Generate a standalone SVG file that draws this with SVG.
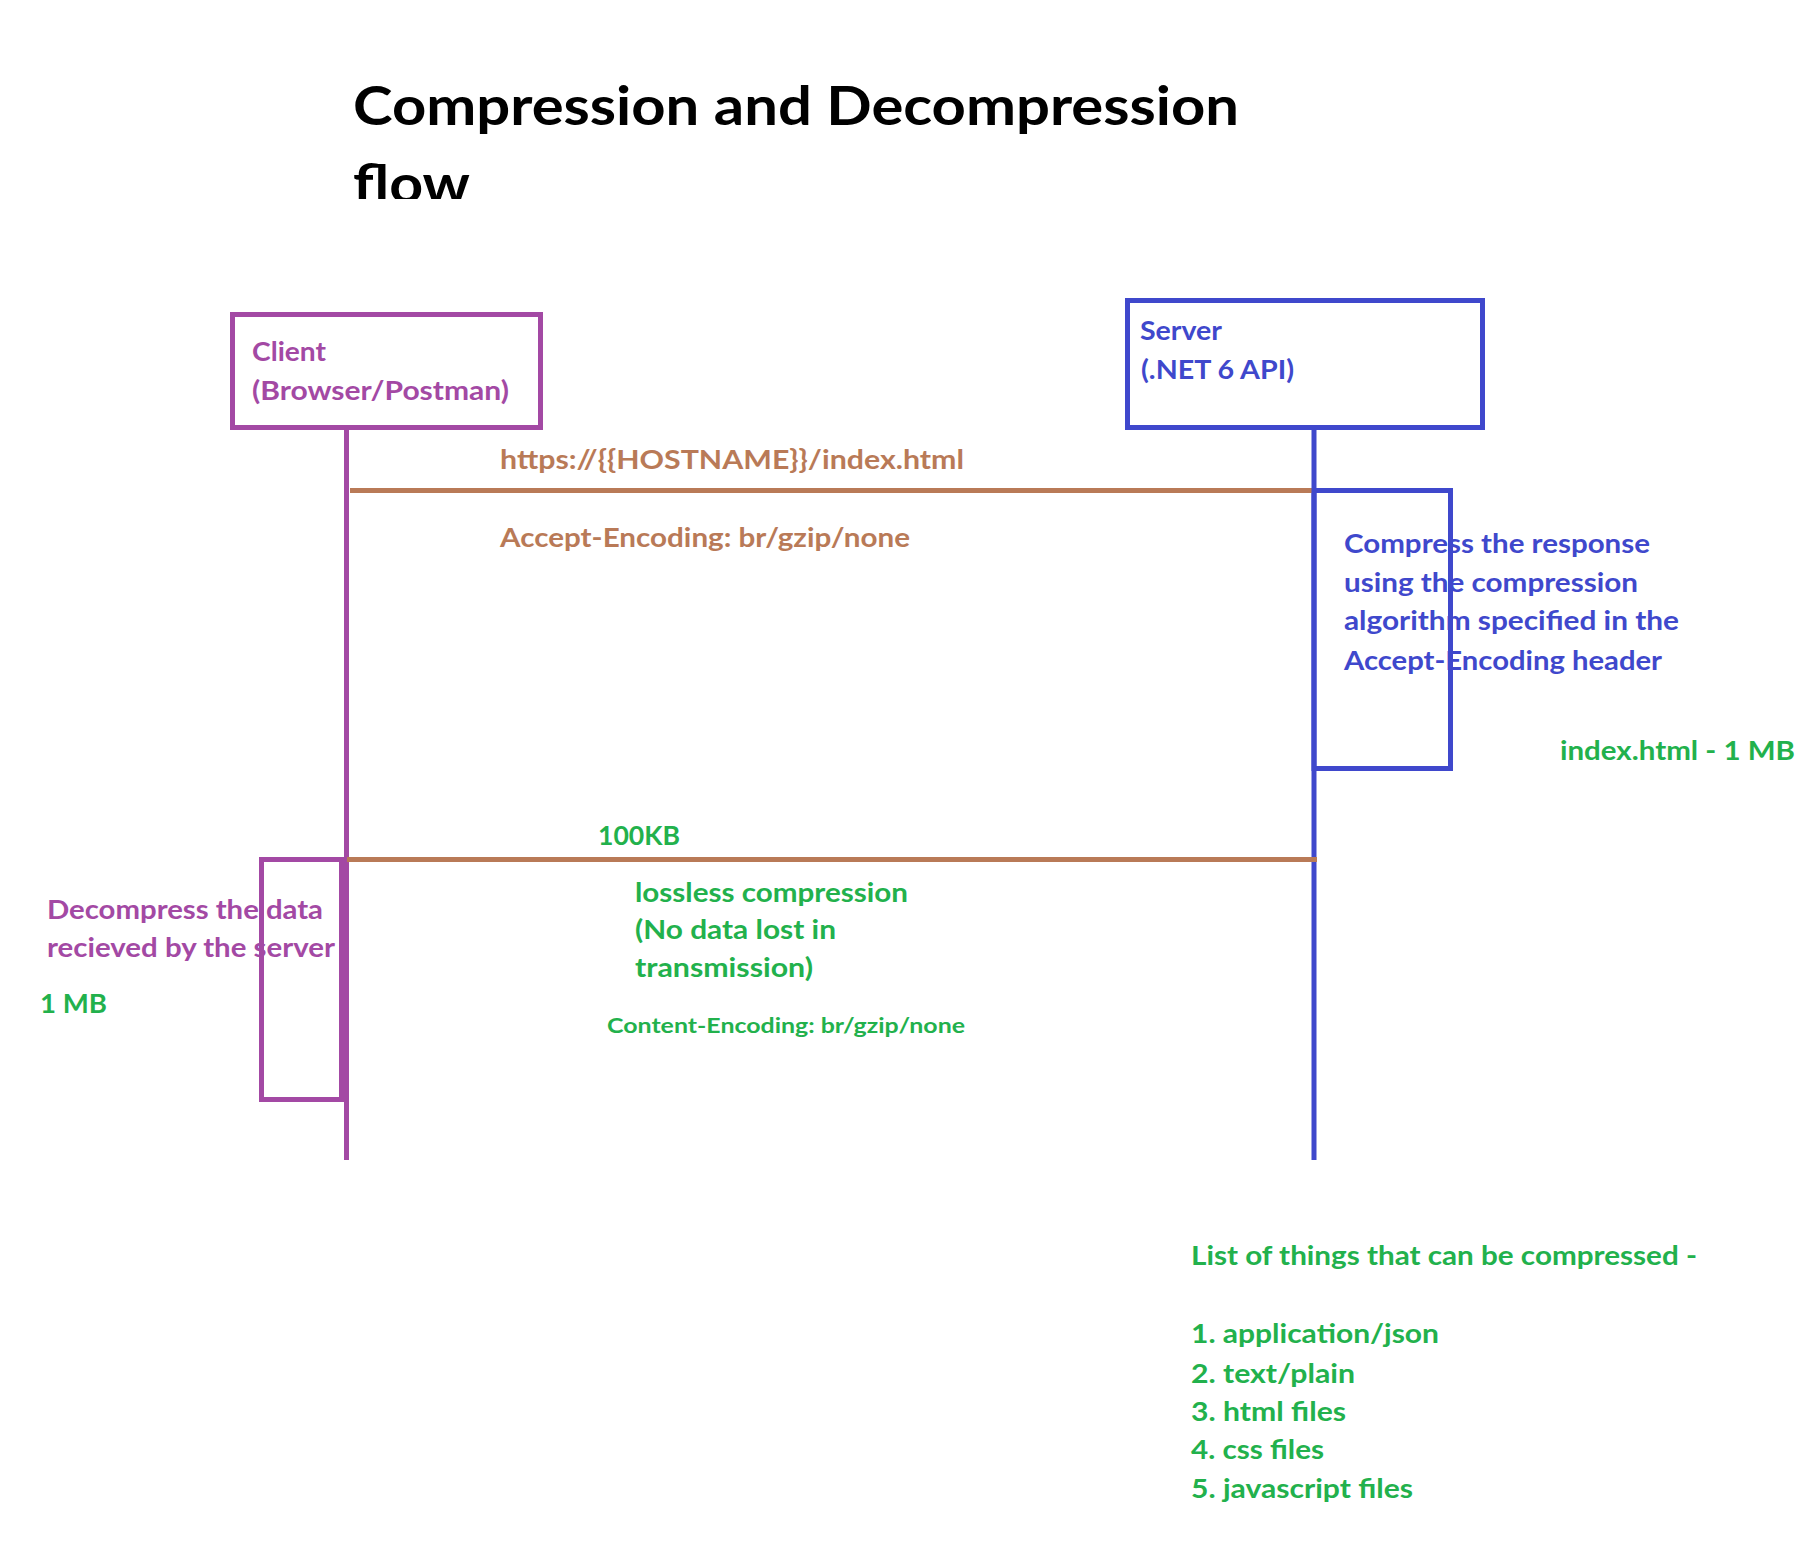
<svg xmlns="http://www.w3.org/2000/svg" width="1810" height="1554" viewBox="0 0 1810 1554">
  <style>
    text { font-family: Lato, "Open Sans", "Liberation Sans", sans-serif; font-weight: 700; }
    .t { font-size: 53px; fill: #000000; }
    .m { font-size: 27px; }
    .s { font-size: 21px; }
    .purple { fill: #A349A4; }
    .blue { fill: #3F48CC; }
    .brown { fill: #B97A57; }
    .green { fill: #22B14C; }
    .box-p { fill: none; stroke: #A349A4; stroke-width: 5; }
    .box-b { fill: none; stroke: #3F48CC; stroke-width: 5; }
    .life-p { stroke: #A349A4; stroke-width: 5; }
    .life-b { stroke: #3F48CC; stroke-width: 5; }
    .msg { stroke: #B97A57; stroke-width: 5; }
  </style>
  <defs>
    <clipPath id="titleClip">
      <rect x="0" y="0" width="1810" height="199"/>
    </clipPath>
  </defs>
  <rect x="0" y="0" width="1810" height="1554" fill="#ffffff"/>

  <g id="title" clip-path="url(#titleClip)">
    <text class="t" x="353" y="125" textLength="886" lengthAdjust="spacingAndGlyphs">Compression and Decompression</text>
    <text class="t" x="353" y="203" textLength="117" lengthAdjust="spacingAndGlyphs">flow</text>
  </g>

  <g id="connectors">
    <line class="life-p" x1="346.5" y1="428" x2="346.5" y2="1160"/>
    <line class="life-b" x1="1314" y1="428" x2="1314" y2="1160"/>
    <line class="msg" x1="350" y1="490.5" x2="1314" y2="490.5"/>
    <line class="msg" x1="347" y1="859.5" x2="1317" y2="859.5"/>
  </g>

  <g id="client">
    <rect class="box-p" x="232.5" y="314.5" width="308" height="113"/>
    <text class="m purple" x="252" y="361" textLength="74" lengthAdjust="spacingAndGlyphs">Client</text>
    <text class="m purple" x="252" y="400" textLength="257" lengthAdjust="spacingAndGlyphs">(Browser/Postman)</text>
  </g>

  <g id="server">
    <rect class="box-b" x="1127.5" y="300.5" width="355" height="127"/>
    <text class="m blue" x="1140" y="340" textLength="82" lengthAdjust="spacingAndGlyphs">Server</text>
    <text class="m blue" x="1141" y="379" textLength="153" lengthAdjust="spacingAndGlyphs">(.NET 6 API)</text>
  </g>

  <g id="request-labels">
    <text class="m brown" x="500" y="469" textLength="464" lengthAdjust="spacingAndGlyphs">https://{{HOSTNAME}}/index.html</text>
    <text class="m brown" x="500" y="547" textLength="410" lengthAdjust="spacingAndGlyphs">Accept-Encoding: br/gzip/none</text>
  </g>

  <g id="server-activation">
    <rect class="box-b" x="1314" y="490.5" width="136.5" height="278"/>
    <text class="m blue" x="1344" y="553" textLength="306" lengthAdjust="spacingAndGlyphs">Compress the response</text>
    <text class="m blue" x="1344" y="592" textLength="294" lengthAdjust="spacingAndGlyphs">using the compression</text>
    <text class="m blue" x="1344" y="630" textLength="335" lengthAdjust="spacingAndGlyphs">algorithm specified in the</text>
    <text class="m blue" x="1344" y="670" textLength="318" lengthAdjust="spacingAndGlyphs">Accept-Encoding header</text>
  </g>

  <g id="size-original">
    <text class="m green" x="1560" y="760" textLength="235" lengthAdjust="spacingAndGlyphs">index.html - 1 MB</text>
  </g>

  <g id="response-labels">
    <text class="m green" x="598" y="845" textLength="82" lengthAdjust="spacingAndGlyphs">100KB</text>
    <text class="m green" x="635" y="902" textLength="273" lengthAdjust="spacingAndGlyphs">lossless compression</text>
    <text class="m green" x="635" y="939" textLength="201" lengthAdjust="spacingAndGlyphs">(No data lost in</text>
    <text class="m green" x="635" y="977" textLength="178" lengthAdjust="spacingAndGlyphs">transmission)</text>
    <text class="s green" x="607" y="1033" textLength="358" lengthAdjust="spacingAndGlyphs">Content-Encoding: br/gzip/none</text>
  </g>

  <g id="client-activation">
    <rect class="box-p" x="261.5" y="859.5" width="80" height="240"/>
    <text class="m purple" x="47" y="919" textLength="276" lengthAdjust="spacingAndGlyphs">Decompress the data</text>
    <text class="m purple" x="47" y="957" textLength="288" lengthAdjust="spacingAndGlyphs">recieved by the server</text>
    <text class="m green" x="40" y="1013" textLength="67" lengthAdjust="spacingAndGlyphs">1 MB</text>
  </g>

  <g id="compressible-list">
    <text class="m green" x="1191" y="1265" textLength="506" lengthAdjust="spacingAndGlyphs">List of things that can be compressed -</text>
    <text class="m green" x="1191" y="1343" textLength="248" lengthAdjust="spacingAndGlyphs">1. application/json</text>
    <text class="m green" x="1191" y="1383" textLength="164" lengthAdjust="spacingAndGlyphs">2. text/plain</text>
    <text class="m green" x="1191" y="1421" textLength="155" lengthAdjust="spacingAndGlyphs">3. html files</text>
    <text class="m green" x="1191" y="1459" textLength="133" lengthAdjust="spacingAndGlyphs">4. css files</text>
    <text class="m green" x="1191" y="1498" textLength="222" lengthAdjust="spacingAndGlyphs">5. javascript files</text>
  </g>
</svg>
